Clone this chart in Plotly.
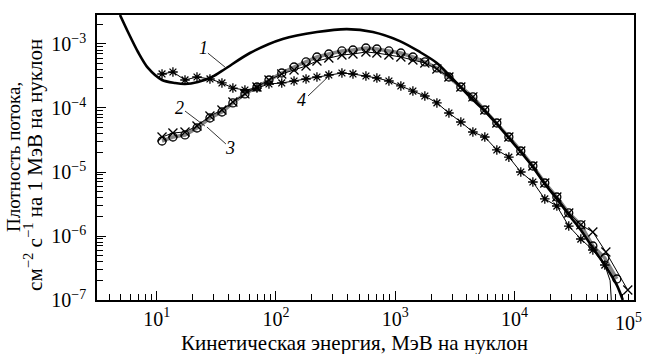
import math
import plotly.graph_objects as go

# Energies (MeV per nucleon) of the marker points
energy = [11.1, 13.7, 17.3, 21.8, 28.0, 35.3, 43.6, 55.0, 69.4, 87.5,
          112, 142, 179, 221, 278, 358, 443, 569, 703, 887,
          1117, 1409, 1775, 2240, 2825, 3557, 4487, 5650, 7126, 8990,
          11320, 14290, 17990, 22700, 28570, 36060, 45500, 57300, 72300]

# Series 2 (circles)
flux2 = [3.05e-5, 3.52e-5, 3.79e-5, 4.87e-5, 6.98e-5, 8.66e-5, 1.20e-4, 1.66e-4, 2.13e-4, 2.74e-4,
         3.52e-4, 4.37e-4, 5.24e-4, 6.26e-4, 6.98e-4, 7.78e-4, 8.06e-4, 8.66e-4, 8.35e-4, 7.78e-4,
         7.23e-4, 6.26e-4, 5.24e-4, 4.22e-4, 3.05e-4, 2.13e-4, 1.49e-4, 9.3e-5, 5.83e-5, 3.52e-5,
         2.13e-5, 1.24e-5, 6.73e-6, 4.07e-6, 2.29e-6, 1.49e-6, 6.98e-7, 4.53e-7, 2.13e-7]

# Series 3 (crosses)
energy3 = [11.1, 13.7, 17.3, 21.8, 28.0, 35.3, 43.6, 55.0, 69.4, 87.5,
           112, 142, 179, 221, 278, 358, 443, 569, 703, 887,
           1117, 1409, 1775, 2240, 2825, 3557, 4487, 5650, 7126, 8990,
           11320, 14290, 17990, 22700, 28570, 36060, 45500, 58500, 89300]
flux3 = [3.52e-5, 4.07e-5, 4.22e-5, 5.24e-5, 7.5e-5, 9.3e-5, 1.24e-4, 1.66e-4, 2.13e-4, 2.74e-4,
         3.40e-4, 3.92e-4, 4.53e-4, 5.43e-4, 6.04e-4, 6.73e-4, 6.98e-4, 7.5e-4, 7.23e-4, 6.73e-4,
         6.26e-4, 5.62e-4, 5.05e-4, 4.07e-4, 3.05e-4, 2.13e-4, 1.49e-4, 9.3e-5, 5.83e-5, 3.52e-5,
         2.13e-5, 1.24e-5, 6.73e-6, 4.07e-6, 2.29e-6, 1.49e-6, 1.155e-6, 5.62e-7, 1.43e-7]

# Series 4 (asterisks)
energy4 = energy[:38]
flux4 = [3.40e-4, 3.65e-4, 2.74e-4, 3.05e-4, 2.84e-4, 2.46e-4, 2.05e-4, 1.91e-4, 2.05e-4, 2.37e-4,
         2.46e-4, 2.64e-4, 2.84e-4, 3.05e-4, 3.28e-4, 3.52e-4, 3.40e-4, 3.16e-4, 2.94e-4, 2.64e-4,
         2.21e-4, 1.84e-4, 1.54e-4, 1.20e-4, 8.35e-5, 6.04e-5, 4.22e-5, 3.52e-5, 2.21e-5, 1.71e-5,
         1.0e-5, 6.98e-6, 3.79e-6, 2.94e-6, 1.43e-6, 8.97e-7, 6.04e-7, 3.52e-7]
# steep final drop of curve 4
energy4_end = [57300, 63500, 66500]
flux4_end = [3.52e-7, 2.0e-7, 5.0e-8]

# Curve 1 (thick line, model)
energy1 = [4.93, 5.75, 6.98, 8.46, 11.1, 14.3, 17.3, 22.2, 29.1, 37.4,
           60.6, 114, 221, 394, 651, 1096, 1612, 2237, 3048, 4235,
           5654, 7126, 8985, 11320, 14280, 18000, 22700, 28600, 36060, 45470,
           57300, 72300, 81100]
flux1 = [2.84e-3, 1.54e-3, 7.5e-4, 4.22e-4, 2.74e-4, 2.46e-4, 2.37e-4, 2.55e-4, 3.05e-4, 4.07e-4,
         7.23e-4, 1.20e-3, 1.54e-3, 1.71e-3, 1.54e-3, 1.11e-3, 7.5e-4, 5.05e-4, 2.84e-4, 1.49e-4,
         8.97e-5, 5.62e-5, 3.40e-5, 2.05e-5, 1.20e-5, 6.49e-6, 3.79e-6, 2.13e-6, 1.24e-6, 6.49e-7,
         3.52e-7, 1.71e-7, 1.0e-7]

# Curve labels and their leader lines
labels = ["1", "2", "3", "4"]
label_x = [24.5, 15.7, 41.2, 165]
label_y = [8.66e-4, 1.0e-4, 2.37e-5, 1.33e-4]
leaders = [([26.9, 37.4], [7.2e-4, 4.37e-4]),
           ([17.3, 25.4], [8.97e-5, 5.23e-5]),
           ([38.1, 26.4], [2.74e-5, 5.05e-5]),
           ([186, 273], [1.54e-4, 3.05e-4])]

xtick_vals = [10, 100, 1000, 10000, 100000]
xtick_text = ["10<sup>1</sup>", "10<sup>2</sup>", "10<sup>3</sup>", "10<sup>4</sup>", ""]
xtick_last_text = "10<sup>5</sup>"
ytick_vals = [1e-7, 1e-6, 1e-5, 1e-4, 1e-3]
ytick_text = ["10<sup>\u22127</sup>", "10<sup>\u22126</sup>", "10<sup>\u22125</sup>",
              "10<sup>\u22124</sup>", "10<sup>\u22123</sup>"]

ytitle_1 = "Плотность потока,"
ytitle_2 = "см<sup>\u22122</sup> с<sup>\u22121</sup> на 1 МэВ на нуклон"
xtitle = "Кинетическая энергия, МэВ на нуклон"

FONT = "Liberation Serif"

fig = go.Figure()

# Series 2: gray band
fig.add_trace(go.Scatter(x=energy, y=flux2, mode="lines",
                         line=dict(color="#858585", width=3.5), hoverinfo="skip"))
# Series 3: crosses
fig.add_trace(go.Scatter(x=energy3, y=flux3, mode="lines+markers",
                         line=dict(color="black", width=1),
                         marker=dict(symbol="x-thin-open", size=9, color="black",
                                     line=dict(color="black", width=1.3))))
# Series 2: circles
fig.add_trace(go.Scatter(x=energy, y=flux2, mode="markers",
                         marker=dict(symbol="circle-open", size=8, color="black",
                                     line=dict(color="black", width=1.3))))
# Curve 1
fig.add_trace(go.Scatter(x=energy1, y=flux1, mode="lines",
                         line=dict(color="black", width=2.6, shape="spline", smoothing=0.8)))
# Series 4: asterisks
fig.add_trace(go.Scatter(x=energy4, y=flux4, mode="lines+markers",
                         line=dict(color="black", width=1),
                         marker=dict(symbol="asterisk-open", size=8, color="black",
                                     line=dict(color="black", width=1.3))))
fig.add_trace(go.Scatter(x=energy4_end, y=flux4_end, mode="lines",
                         line=dict(color="black", width=1)))

for lx, ly in leaders:
    fig.add_trace(go.Scatter(x=lx, y=ly, mode="lines",
                             line=dict(color="black", width=0.8)))

for t, x, y in zip(labels, label_x, label_y):
    fig.add_annotation(x=math.log10(x), y=math.log10(y), text="<i>" + t + "</i>",
                       showarrow=False, xref="x", yref="y",
                       font=dict(family=FONT, size=18, color="black"))

# last x tick label (at the right edge of the frame)
fig.add_annotation(x=0.989, y=-0.077, xref="paper", yref="paper", text=xtick_last_text,
                   showarrow=False, xanchor="center", yanchor="middle",
                   font=dict(family=FONT, size=20, color="black"))

# y-axis title as two rotated lines
fig.add_annotation(x=-0.1546, y=0.502, xref="paper", yref="paper", text=ytitle_1,
                   textangle=-90, showarrow=False, xanchor="center", yanchor="middle",
                   font=dict(family=FONT, size=19, color="black"))
fig.add_annotation(x=-0.1173, y=0.474, xref="paper", yref="paper", text=ytitle_2,
                   textangle=-90, showarrow=False, xanchor="center", yanchor="middle",
                   font=dict(family=FONT, size=21, color="black"))
# x-axis title
fig.add_annotation(x=0.48, y=-0.151, xref="paper", yref="paper", text=xtitle,
                   showarrow=False, xanchor="center", yanchor="middle",
                   font=dict(family=FONT, size=21, color="black"))

fig.update_xaxes(type="log", range=[0.5, 5.003], automargin=False,
                 tickmode="array", tickvals=xtick_vals, ticktext=xtick_text,
                 ticks="inside", ticklen=9, tickwidth=1.4, tickcolor="black",
                 minor=dict(ticks="inside", ticklen=6, tickwidth=1.1, tickcolor="black",
                            dtick="D1", showgrid=False),
                 showline=True, linecolor="black", linewidth=1.6, mirror=True,
                 showgrid=False, zeroline=False,
                 tickfont=dict(family=FONT, size=20, color="black"))
fig.update_yaxes(type="log", range=[-7, -2.547], automargin=False,
                 tickmode="array", tickvals=ytick_vals, ticktext=ytick_text,
                 ticks="inside", ticklen=9, tickwidth=1.4, tickcolor="black",
                 minor=dict(ticks="inside", ticklen=6, tickwidth=1.1, tickcolor="black",
                            dtick="D1", showgrid=False),
                 showline=True, linecolor="black", linewidth=1.6, mirror=True,
                 showgrid=False, zeroline=False, ticklabelstandoff=5,
                 tickfont=dict(family=FONT, size=20, color="black"))

fig.update_layout(width=645, height=354, margin=dict(l=97, r=11, t=15, b=54),
                  plot_bgcolor="white", paper_bgcolor="white", showlegend=False)

fig.write_html("out.html", config={"displayModeBar": False},
               post_script="document.body.style.margin='0';"
                           "document.body.style.overflow='hidden';")
